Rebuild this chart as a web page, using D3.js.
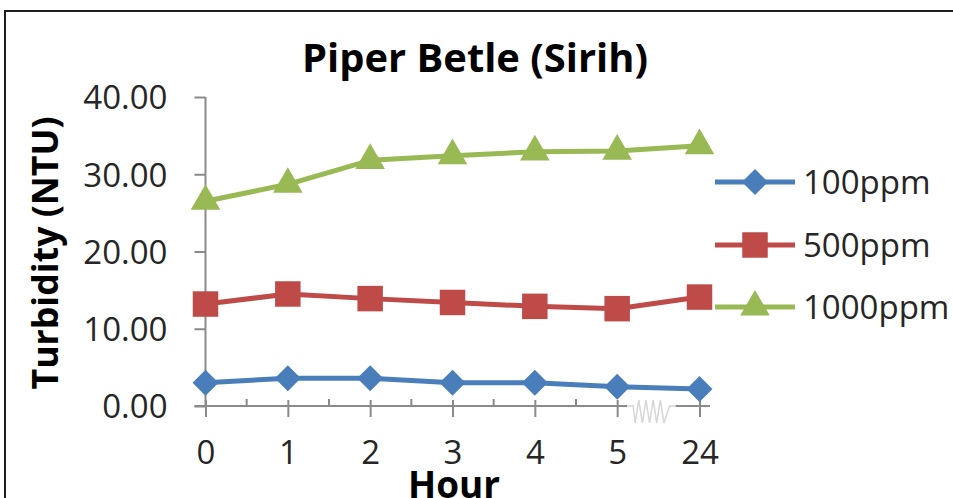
<!DOCTYPE html>
<html>
<head>
<meta charset="utf-8">
<script src="https://cdn.jsdelivr.net/npm/d3@7"></script>
<style>
  html, body { margin: 0; padding: 0; background: #fff; }
  svg { display: block; }
</style>
</head>
<body>
<svg id="chart" width="953" height="498"></svg>
<script>
const hours = ['0', '1', '2', '3', '4', '5', '24'];
const yTicks = [0, 10, 20, 30, 40];
const seriesNames = ['100ppm', '500ppm', '1000ppm'];
const ppm100 = [3.0, 3.6, 3.6, 3.0, 3.0, 2.5, 2.2];
const ppm500 = [13.2, 14.5, 13.9, 13.4, 12.9, 12.6, 14.1];
const ppm1000 = [26.5, 28.7, 31.8, 32.4, 32.9, 33.0, 33.7];

// excel style diamond (a square turned 45deg, not d3's tall one)
const squareDiamond = {
  draw(ctx, size) {
    const r = Math.sqrt(size / 2);
    ctx.moveTo(0, -r);
    ctx.lineTo(r, 0);
    ctx.lineTo(0, r);
    ctx.lineTo(-r, 0);
    ctx.closePath();
  }
};

const colors = ['#4a7ebb', '#be4b48', '#98b954'];
const shapes = [squareDiamond, d3.symbolSquare, d3.symbolTriangle];
const sizes = [338, 650, 380];
const values = [ppm100, ppm500, ppm1000];

const svg = d3.select('#chart');
const axisColor = '#8a8a8a';
const font = "'Open Sans', 'Noto Sans', sans-serif";

// frame (only top + left edges are visible in the crop)
svg.append('path')
  .attr('d', 'M5,498 V11 H953')
  .attr('fill', 'none')
  .attr('stroke', '#1e1e1e')
  .attr('stroke-width', 2);

const x = d3.scalePoint().domain(hours).range([205.5, 699.5]);
const y = d3.scaleLinear().domain([0, 40]).range([406, 97]);

// y axis
const yAxis = svg.append('g')
  .attr('transform', `translate(${x(hours[0])},0)`)
  .call(d3.axisLeft(y).tickValues(yTicks).tickFormat(d3.format('.2f')).tickSize(11).tickPadding(27));
yAxis.select('.domain').remove();
yAxis.append('line')
  .attr('y1', y(40)).attr('y2', y(0))
  .attr('stroke', axisColor).attr('stroke-width', 2);
yAxis.selectAll('.tick line').attr('stroke', axisColor).attr('stroke-width', 2);
yAxis.selectAll('.tick text')
  .attr('font-family', font).attr('font-size', 33).attr('fill', '#262626')
  .attr('dy', '0.36em');

// x axis
const xAxis = svg.append('g')
  .attr('transform', `translate(0,${y(0)})`)
  .call(d3.axisBottom(x).tickSizeInner(11).tickSizeOuter(0));
xAxis.select('.domain').remove();
xAxis.append('line')
  .attr('x1', x(hours[0]) - 11).attr('x2', 710)
  .attr('stroke', axisColor).attr('stroke-width', 2);
xAxis.selectAll('.tick line').attr('y1', -6).attr('stroke', axisColor).attr('stroke-width', 2);
xAxis.selectAll('.tick text')
  .attr('font-family', font).attr('font-size', 33).attr('fill', '#262626')
  .attr('y', 35).attr('dy', '0.71em');

// minor ticks between categories
const mids = d3.pairs(hours).map(([a, b]) => (x(a) + x(b)) / 2);
xAxis.selectAll('.minor')
  .data(mids)
  .enter()
  .append('line')
  .attr('class', 'minor')
  .attr('x1', d => d).attr('x2', d => d)
  .attr('y1', -7).attr('y2', 0)
  .attr('stroke', axisColor).attr('stroke-width', 2);

// axis break between 5 and 24
const bx0 = x('5') + 10, bx1 = x('24') - 24;
const brk = svg.append('g').attr('transform', `translate(0,${y(0)})`);
brk.append('rect')
  .attr('x', bx0).attr('y', -8).attr('width', bx1 - bx0).attr('height', 26)
  .attr('fill', '#fff');
const zig = [[bx0, 0], [bx0 + 6, 0]];
for (let i = 0; i < 9; i++) {
  const xx = bx0 + 8 + i * 3.6;
  zig.push([xx, i % 2 ? -6 : 17]);
}
zig.push([bx1 - 6, 0], [bx1, 0]);
brk.append('path')
  .attr('d', d3.line()(zig))
  .attr('fill', 'none')
  .attr('stroke', '#d6d6d6')
  .attr('stroke-width', 1.5);

// series
const line = d3.line().x((d, i) => x(hours[i])).y(d => y(d));
values.forEach((vals, s) => {
  const g = svg.append('g');
  g.append('path')
    .attr('d', line(vals))
    .attr('fill', 'none')
    .attr('stroke', colors[s])
    .attr('stroke-width', 5)
    .attr('stroke-linejoin', 'round');
  g.selectAll('path.mark')
    .data(vals)
    .enter()
    .append('path')
    .attr('class', 'mark')
    .attr('d', d3.symbol().type(shapes[s]).size(sizes[s])())
    .attr('transform', (d, i) => `translate(${x(hours[i])},${y(d)})`)
    .attr('fill', colors[s]);
});

// legend
const legendY = [182, 245, 307];
const legend = svg.append('g');
seriesNames.forEach((name, s) => {
  const item = legend.append('g').attr('transform', `translate(715,${legendY[s]})`);
  item.append('line')
    .attr('x1', 0).attr('x2', 80)
    .attr('stroke', colors[s]).attr('stroke-width', 5);
  item.append('path')
    .attr('d', d3.symbol().type(shapes[s]).size(sizes[s])())
    .attr('transform', 'translate(40,0)')
    .attr('fill', colors[s]);
  item.append('text')
    .attr('x', 88)
    .attr('dy', '0.36em')
    .attr('font-family', font)
    .attr('font-size', 33)
    .attr('fill', '#262626')
    .text(name);
});

// titles, font size fitted to the width they take in the picture
function fitText(sel, target) {
  const w = sel.node().getComputedTextLength();
  const fs = +sel.attr('font-size');
  sel.attr('font-size', fs * target / w);
}

const title = svg.append('text')
  .attr('x', 475).attr('y', 72)
  .attr('text-anchor', 'middle')
  .attr('font-family', font).attr('font-weight', 700).attr('font-size', 36)
  .attr('fill', '#000')
  .text('Piper Betle (Sirih)');
fitText(title, 346);

const yTitle = svg.append('text')
  .attr('transform', 'translate(58,253) rotate(-90)')
  .attr('text-anchor', 'middle')
  .attr('font-family', font).attr('font-weight', 700).attr('font-size', 36)
  .attr('fill', '#000')
  .text('Turbidity (NTU)');
fitText(yTitle, 273);

const xTitle = svg.append('text')
  .attr('x', 454).attr('y', 498)
  .attr('text-anchor', 'middle')
  .attr('font-family', font).attr('font-weight', 700).attr('font-size', 36)
  .attr('fill', '#000')
  .text('Hour');
fitText(xTitle, 92);
</script>
</body>
</html>
